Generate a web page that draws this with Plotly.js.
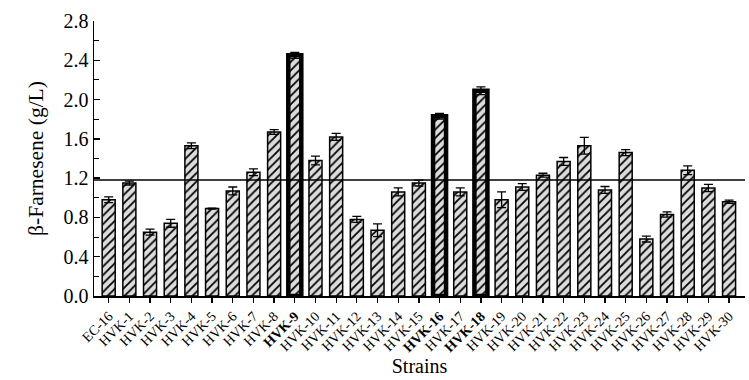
<!DOCTYPE html>
<html>
<head>
<meta charset="utf-8">
<script src="https://cdn.plot.ly/plotly-3.0.1.min.js"></script>
<style>html,body{margin:0;padding:0;background:#fff;}#chart{width:749px;height:380px;}</style>
</head>
<body>
<div id="chart"></div>
<script>
const strains = ["EC-16","HVK-1","HVK-2","HVK-3","HVK-4","HVK-5","HVK-6","HVK-7","HVK-8","HVK-9","HVK-10","HVK-11","HVK-12","HVK-13","HVK-14","HVK-15","HVK-16","HVK-17","HVK-18","HVK-19","HVK-20","HVK-21","HVK-22","HVK-23","HVK-24","HVK-25","HVK-26","HVK-27","HVK-28","HVK-29","HVK-30"];
const farnesene = [0.98,1.15,0.65,0.74,1.53,0.89,1.07,1.26,1.67,2.45,1.38,1.62,0.78,0.67,1.06,1.15,1.83,1.06,2.09,0.98,1.11,1.23,1.37,1.53,1.08,1.46,0.58,0.83,1.28,1.10,0.96];
const errors = [0.03,0.02,0.03,0.04,0.03,0.005,0.04,0.035,0.025,0.03,0.045,0.035,0.03,0.065,0.04,0.03,0.03,0.04,0.04,0.08,0.035,0.02,0.04,0.085,0.035,0.03,0.03,0.027,0.045,0.037,0.017];
const highlighted = ["HVK-9","HVK-16","HVK-18"];
const threshold = 1.18;
const yTicks = [0,0.4,0.8,1.2,1.6,2.0,2.4,2.8];

const xIdx = strains.map((s,i)=>i);
const tickText = strains.map(s => highlighted.includes(s) ? "<b>"+s+"</b>" : s);
const lineWidths = strains.map(s => highlighted.includes(s) ? 4.5 : 1.5);

const trace = {
  type: 'bar',
  x: xIdx,
  y: farnesene,
  width: 0.63,
  marker: {
    color: '#dcdcdc',
    line: {color: '#000', width: lineWidths},
    pattern: {shape: '/', bgcolor: '#dcdcdc', fgcolor: '#000', size: 6, solidity: 0.3, fillmode: 'replace'}
  },
  error_y: {type: 'data', array: errors, visible: true, color: '#000', thickness: 1.3, width: 4.5},
  hoverinfo: 'x+y'
};

const layout = {
  width: 749, height: 380,
  margin: {l: 94, r: 4, t: 21, b: 84},
  paper_bgcolor: '#fff', plot_bgcolor: '#fff',
  showlegend: false,
  font: {family: '"Liberation Serif", "Times New Roman", serif', color: '#000'},
  xaxis: {
    range: [-0.71, 30.77],
    tickmode: 'array', tickvals: xIdx, ticktext: tickText,
    tickangle: -45, tickfont: {size: 14, family: '"Liberation Serif", serif'},
    ticks: 'outside', ticklen: 5, tickwidth: 1.3, tickcolor: '#000',
    showline: true, linecolor: '#000', linewidth: 1.5,
    showgrid: false, zeroline: false,
    title: {text: 'Strains', font: {size: 20}, standoff: 4}
  },
  yaxis: {
    range: [0, 2.8],
    tickmode: 'array', tickvals: yTicks, ticktext: yTicks.map(v=>v.toFixed(1)),
    tickfont: {size: 20},
    ticks: 'inside', ticklen: 6, tickwidth: 1.3, tickcolor: '#000',
    minor: {dtick: 0.2, ticks: 'inside', ticklen: 5, tickwidth: 1, tickcolor: '#000', showgrid: false},
    showline: true, linecolor: '#000', linewidth: 1.5,
    showgrid: false, zeroline: false,
    title: {text: 'β-Farnesene (g/L)', font: {size: 21.5}, standoff: 14}
  },
  shapes: [{type: 'line', xref: 'paper', x0: 0, x1: 1, yref: 'y', y0: threshold, y1: threshold, line: {color: '#000', width: 1.5}}]
};

Plotly.newPlot('chart', [trace], layout, {displayModeBar: false, staticPlot: true});
</script>
</body>
</html>
